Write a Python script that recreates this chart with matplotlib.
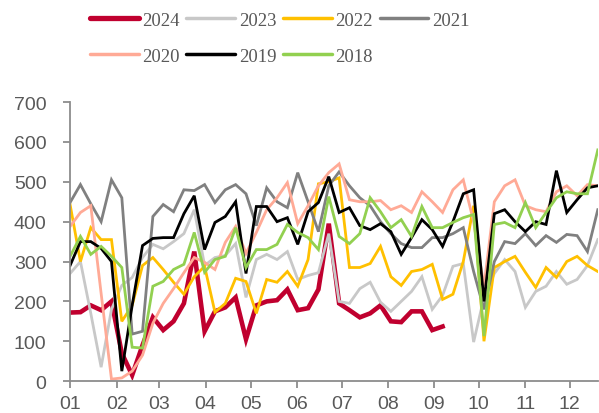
import numpy as np
import matplotlib
matplotlib.use("Agg")
import matplotlib.pyplot as plt

# weekly values, week 1 .. week 52
y2024 = [172, 173, 190, 178, 200, 70, 15, 90, 160, 128, 150, 195, 325, 125, 175, 185,
         210, 105, 190, 200, 203, 230, 178, 183, 230, 395, 195, 178, 160, 170, 190, 150,
         148, 175, 175, 128, 137]
y2023 = [270, 300, 170, 35, 180, 240, 260, 310, 343, 332, 350, 370, 430, 290, 310, 315,
         345, 210, 305, 318, 305, 325, 255, 265, 272, 370, 200, 195, 232, 248, 198, 175,
         200, 225, 262, 180, 215, 288, 295, 98, 210, 270, 305, 275, 185, 225, 238, 275,
         243, 255, 290, 355]
y2022 = [443, 300, 385, 355, 355, 150, 190, 290, 310, 280, 248, 218, 262, 288, 173, 195,
         258, 250, 170, 255, 248, 275, 238, 305, 495, 500, 510, 285, 285, 295, 338, 262,
         240, 275, 280, 293, 205, 218, 300, 440, 100, 285, 300, 313, 273, 235, 285, 260,
         300, 313, 290, 275]
y2021 = [448, 493, 445, 400, 505, 460, 118, 125, 413, 443, 425, 480, 478, 493, 448, 480,
         493, 470, 390, 485, 450, 435, 523, 450, 375, 490, 525, 490, 460, 440, 400, 370,
         345, 335, 335, 360, 360, 370, 385, 275, 180, 300, 350, 345, 370, 340, 365, 348,
         368, 365, 325, 430]
y2020 = [388, 423, 440, 220, 5, 8, 25, 65, 145, 195, 232, 272, 310, 298, 280, 348,
         388, 320, 373, 430, 460, 498, 395, 440, 490, 523, 545, 455, 450, 450, 453, 430,
         440, 423, 475, 450, 423, 480, 505, 400, 238, 450, 490, 505, 440, 430, 425, 475,
         490, 465, 493, 490]
y2019 = [290, 350, 350, 333, 300, 25, 190, 340, 358, 360, 360, 420, 465, 330, 398, 413,
         450, 270, 438, 438, 400, 410, 343, 425, 448, 513, 423, 435, 390, 380, 395, 375,
         318, 360, 405, 380, 338, 400, 470, 480, 200, 420, 430, 400, 375, 400, 393, 528,
         423, 455, 485, 490]
y2018 = [313, 363, 318, 338, 313, 285, 85, 83, 238, 250, 280, 293, 373, 273, 305, 313,
         385, 285, 330, 330, 343, 393, 373, 360, 330, 463, 363, 345, 370, 460, 425, 385,
         405, 363, 438, 385, 385, 398, 410, 418, 113, 393, 398, 385, 448, 385, 423, 460,
         475, 470, 470, 580]

months = ["01", "02", "03", "04", "05", "06", "07", "08", "09", "10", "11", "12"]
month_pos = [0, 4.5, 8.6, 13.1, 17.5, 21.9, 26.3, 30.7, 35.2, 39.5, 44.0, 48.3]

series = [
    ("2024", y2024, "#C0002F", 3.3),
    ("2023", y2023, "#C8C8C8", 2.0),
    ("2022", y2022, "#FFC000", 2.0),
    ("2021", y2021, "#808080", 2.0),
    ("2020", y2020, "#FFAA96", 2.0),
    ("2019", y2019, "#000000", 2.0),
    ("2018", y2018, "#92D050", 2.0),
]

fig = plt.figure(figsize=(5.99, 4.14), dpi=100)
ax = fig.add_axes([0.117, 0.077, 0.881, 0.674])

lines = {}
for name, vals, col, lw in series:
    ln, = ax.plot(np.arange(len(vals)), vals, color=col, lw=lw, label=name,
                  solid_joinstyle="miter")
    lines[name] = ln

ax.set_xlim(0, 51)
ax.set_ylim(0, 700)
ax.set_yticks(range(0, 701, 100))
ax.set_xticks(month_pos)
ax.set_xticklabels(months)

grey = "#595959"
for s in ["top", "right"]:
    ax.spines[s].set_visible(False)
for s in ["left", "bottom"]:
    ax.spines[s].set_color("#8C8C8C")
    ax.spines[s].set_linewidth(1.3)
ax.tick_params(axis="both", colors="#8C8C8C", width=1.3, length=5,
               labelcolor=grey, labelsize=14, labelfontfamily="Liberation Sans")
ax.tick_params(axis="y", pad=12)
ax.tick_params(axis="x", pad=5)

# legend filled row by row
order = ["2024", "2020", "2023", "2019", "2022", "2018", "2021"]
leg = fig.legend([lines[k] for k in order], order, ncol=4, loc="upper center",
                 bbox_to_anchor=(0.467, 1.01), frameon=False,
                 prop={"family": "Liberation Serif", "size": 13.5},
                 handlelength=2.6, handletextpad=0.2, columnspacing=0.35,
                 labelspacing=1.0)
for t in leg.get_texts():
    t.set_color(grey)
for h in leg.legend_handles:
    h.set_solid_capstyle("round")
    h.set_linewidth(h.get_linewidth() + 0.5)

fig.savefig("out.png", dpi=100)
